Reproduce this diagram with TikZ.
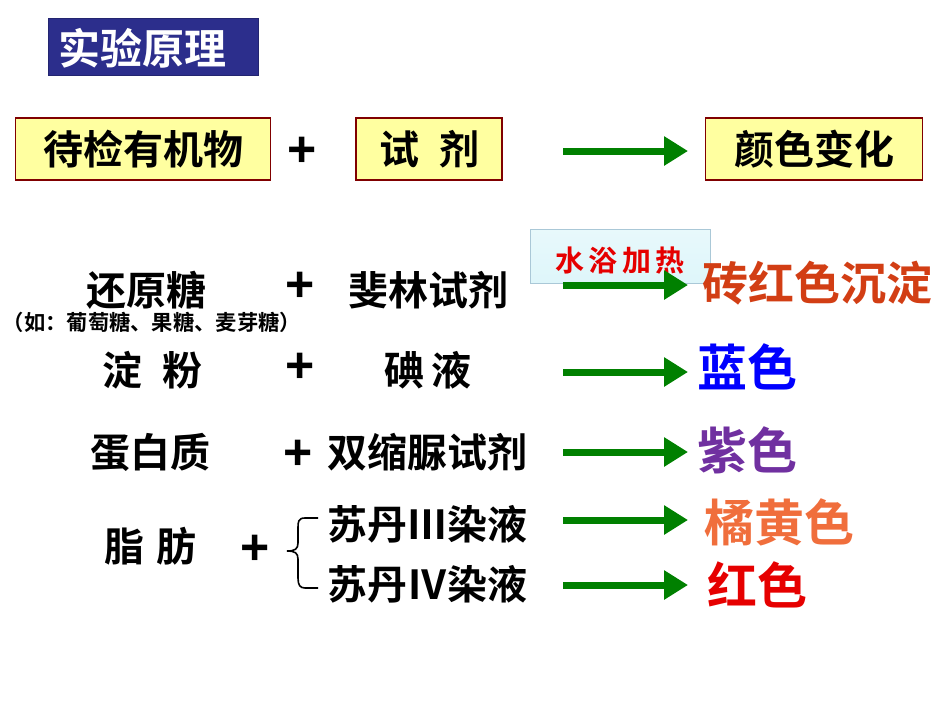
\documentclass[tikz,border=0pt]{standalone}
\usepackage{fontspec}
\newfontfamily\cjk{Noto Sans CJK SC}[BoldFont={Noto Sans CJK SC Bold}]
\newfontfamily\lat{Liberation Sans}
\usetikzlibrary{arrows.meta,shadows}
\definecolor{titleblue}{RGB}{44,46,140}
\definecolor{boxyellow}{RGB}{255,255,160}
\definecolor{boxred}{RGB}{128,0,0}
\definecolor{arrgreen}{RGB}{0,128,0}
\definecolor{brick}{RGB}{210,62,20}
\definecolor{purp}{RGB}{112,48,160}
\definecolor{orng}{RGB}{240,110,60}
\definecolor{redc}{RGB}{230,0,0}
\definecolor{cyanbox}{RGB}{222,246,250}
\definecolor{cyanedge}{RGB}{170,200,215}
\tikzset{
  ybox/.style={draw=boxred,line width=1.6pt,fill=boxyellow,inner sep=0pt,minimum height=62pt},
  lbl/.style={font=\cjk\bfseries\fontsize{40}{40}\selectfont,inner sep=0pt},
  res/.style={font=\cjk\bfseries\fontsize{46}{46}\selectfont,inner sep=0pt},
  plus/.style={font=\lat\bfseries\fontsize{50}{50}\selectfont,inner sep=0pt},
  garrow/.style={draw=arrgreen,line width=7pt,-{Triangle[length=24pt,width=28pt]},shorten >=0pt},
}
\begin{document}
\begin{tikzpicture}[x=1pt,y=-1pt]
\useasboundingbox (0,0) rectangle (950,713);
% title
\node[fill=titleblue,draw=titleblue!80!black,minimum width=210pt,minimum height=57pt,inner sep=0pt] (titlebox) at (153,47) {};
\node[font=\cjk\bfseries\fontsize{42}{42}\selectfont,text=white,inner sep=0pt] (title) at (142,48) {实验原理};
% row 1
\node[ybox,minimum width=255pt,lbl] (org) at (143,149) {待检有机物};
\node[plus] (p1) at (302,152) {+};
\node[ybox,minimum width=146pt,lbl] (reag) at (429,149) {试\hspace{0.5em}剂};
\coordinate (a1s) at (563,151);
\coordinate (a1e) at (688,151);
\draw[garrow] (a1s) -- (a1e);
\node[ybox,minimum width=217pt,lbl] (color) at (814,149) {颜色变化};
% heating box
\node[draw=cyanedge,line width=0.8pt,top color=cyanbox!70!white,bottom color=cyanbox,minimum width=180pt,minimum height=54pt,inner sep=0pt] (heatbox) at (620,256) {};
\node[font=\cjk\bfseries\fontsize{29}{29}\selectfont,text=red!90!black,inner sep=0pt] (heat) at (620,261) {水\hspace{0.15em}浴\hspace{0.15em}加\hspace{0.15em}热};
% row 2
\node[lbl] (rs) at (146,290) {还原糖};
\node[font=\cjk\bfseries\fontsize{21.3}{21.3}\selectfont,inner sep=0pt] (eg) at (152,322) {（如：葡萄糖、果糖、麦芽糖）};
\node[plus] (p2) at (300,287) {+};
\node[lbl] (fl) at (428,290) {斐林试剂};
\coordinate (a2s) at (563,285);
\coordinate (a2e) at (688,285);
\draw[garrow] (a2s) -- (a2e);
\node[res,text=brick] (r2) at (817,283) {砖红色沉淀};
% row 3
\node[lbl] (st) at (152,370) {淀\hspace{0.5em}粉};
\node[plus] (p3) at (300,368) {+};
\node[lbl] (io) at (428,370) {碘\hspace{0.2em}液};
\coordinate (a3s) at (563,372);
\coordinate (a3e) at (688,372);
\draw[garrow] (a3s) -- (a3e);
\node[res,text=blue,font=\cjk\bfseries\fontsize{50}{50}\selectfont] (r3) at (747,367) {蓝色};
% row 4
\node[lbl] (pr) at (150,452) {蛋白质};
\node[plus] (p4) at (298,455) {+};
\node[lbl] (bi) at (427,452) {双缩脲试剂};
\coordinate (a4s) at (563,452);
\coordinate (a4e) at (688,452);
\draw[garrow] (a4s) -- (a4e);
\node[res,text=purp,font=\cjk\bfseries\fontsize{50}{50}\selectfont] (r4) at (747,450) {紫色};
% row 5
\node[lbl] (fat) at (150,546) {脂\hspace{0.3em}肪};
\node[plus] (p5) at (255,550) {+};
\node[lbl] (s3) at (427,524) {苏丹Ⅲ染液};
\node[lbl] (s4) at (427,584) {苏丹Ⅳ染液};
\coordinate (a5s) at (563,520);
\coordinate (a5e) at (688,520);
\draw[garrow] (a5s) -- (a5e);
\coordinate (a6s) at (563,585);
\coordinate (a6e) at (688,585);
\draw[garrow] (a6s) -- (a6e);
\node[res,text=orng,font=\cjk\bfseries\fontsize{50}{50}\selectfont] (r5) at (779,522) {橘黄色};
\node[res,text=redc,font=\cjk\bfseries\fontsize{50}{50}\selectfont] (r6) at (757,585) {红色};
% brace
\coordinate (bt) at (318,518);
\coordinate (bm) at (287,551);
\coordinate (bb) at (318,588);
\draw[line width=1.6pt] (bt) -- (305,518) .. controls (298,518) and (298,522) .. (298,528) -- (298,543)
  .. controls (298,549) and (295,551) .. (bm)
  .. controls (295,551) and (298,553) .. (298,559) -- (298,578)
  .. controls (298,585) and (300,588) .. (305,588) -- (bb);
\end{tikzpicture}
\end{document}
